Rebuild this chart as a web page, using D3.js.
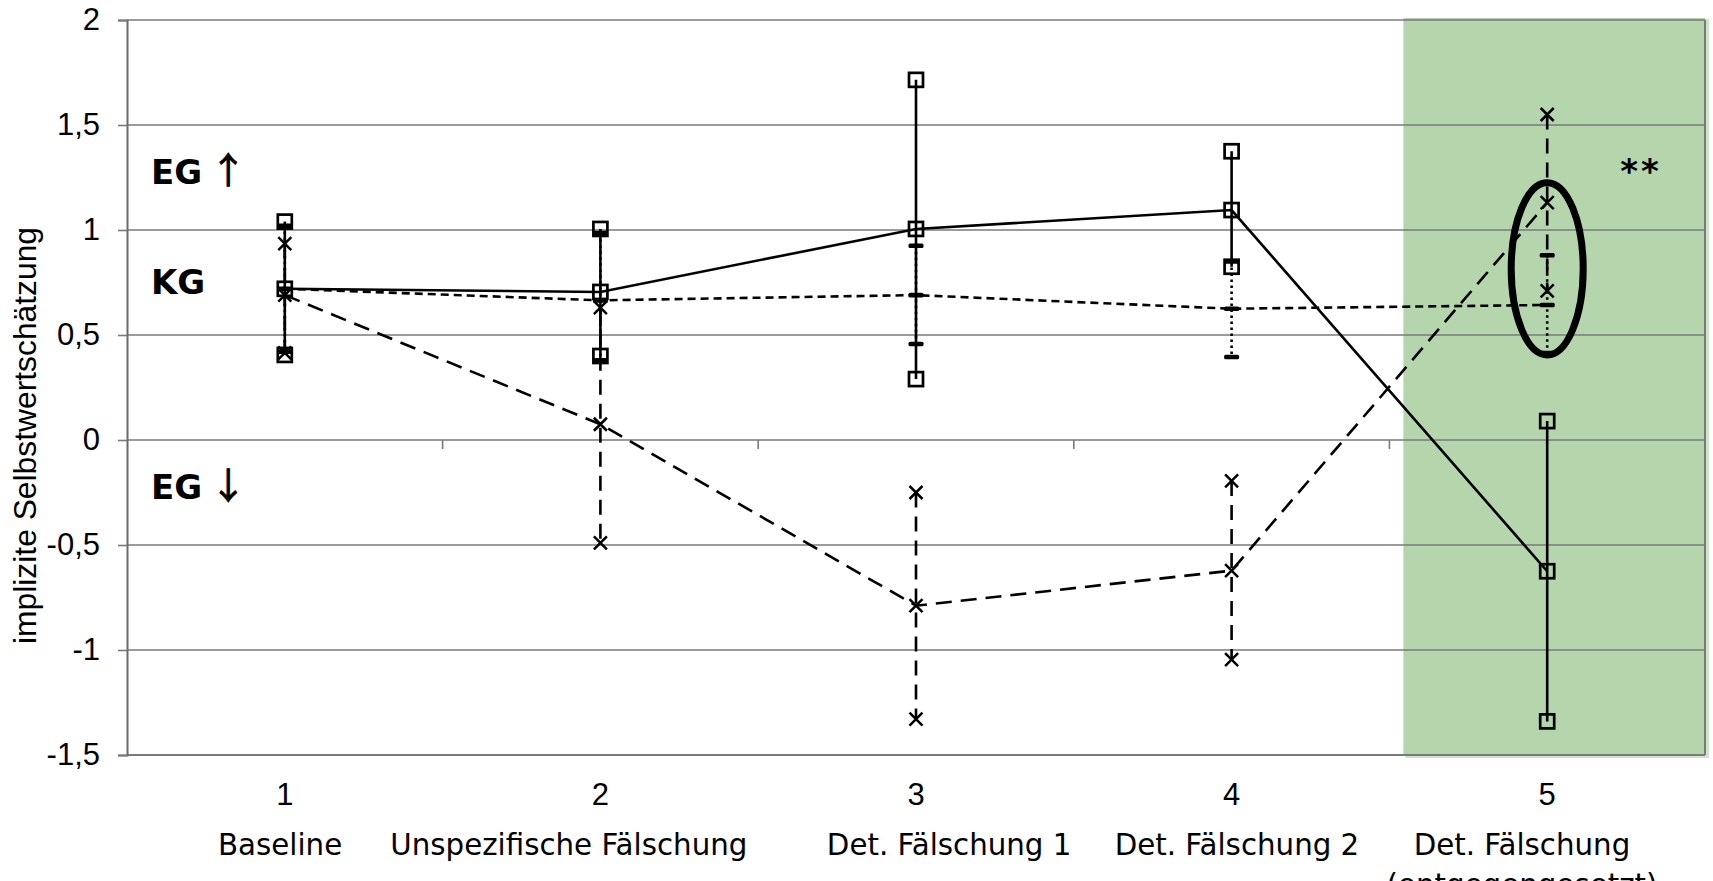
<!DOCTYPE html>
<html>
<head>
<meta charset="utf-8">
<script src="https://cdn.jsdelivr.net/npm/d3@7"></script>
<style>
  html, body { margin: 0; padding: 0; background: #fff; overflow: hidden; }
  svg { display: block; }
</style>
</head>
<body>
<svg id="chart" width="1713" height="881"></svg>
<script>
// ---------- data ----------
const categories = [1, 2, 3, 4, 5];
const categoryNames = [
  ["Baseline"],
  ["Unspezifische Fälschung"],
  ["Det. Fälschung 1"],
  ["Det. Fälschung 2"],
  ["Det. Fälschung", "(entgegengesetzt)"]
];
// label centres are offset from the category centres in the original (fraction of a category width)
const categoryNameOffsets = [-0.015, -0.10, 0.105, 0.017, -0.08];
const yTicks = [-1.5, -1, -0.5, 0, 0.5, 1, 1.5, 2];
const yTitle = "implizite Selbstwertschätzung";

// EG ↑ (solid line, square markers)
const egUpMean = [0.72, 0.705, 1.005, 1.095, -0.625];
const egUpHigh = [1.04, 1.005, 1.715, 1.375, 0.09];
const egUpLow  = [0.405, 0.40, 0.29, 0.825, -1.34];

// KG (short dashed line, dash markers, dotted error bars)
const kgMean = [0.72, 0.665, 0.69, 0.625, 0.643];
const kgHigh = [1.02, 0.985, 0.925, 0.85, 0.88];
const kgLow  = [0.42, 0.38, 0.457, 0.395, 0.414];

// EG ↓ (long dashed line, x markers)
const egDownMean = [0.69, 0.075, -0.789, -0.622, 1.13];
const egDownHigh = [0.935, 0.63, -0.25, -0.195, 1.55];
const egDownLow  = [0.415, -0.49, -1.329, -1.046, 0.71];

const groupLabels = [
  { text: "EG", arrow: "↑", value: 1.22 },
  { text: "KG", arrow: "",  value: 0.695 },
  { text: "EG", arrow: "↓", value: -0.28 }
];
const highlightCategory = 5;
const significance = "**";
const ellipseCenter = 0.815;
const ellipseHalf = 0.41;

// ---------- layout ----------
const svg = d3.select("#chart");
const plotLeft = 127, plotRight = 1705, plotTop = 20, plotBottom = 755;

const x = d3.scaleBand().domain(categories).range([plotLeft, plotRight]).paddingInner(0).paddingOuter(0);
const cx = c => x(c) + x.bandwidth() / 2;
const y = d3.scaleLinear().domain([-1.5, 2]).range([plotBottom, plotTop]);

const GRID = "#7a7a7a";

// highlight box (under gridlines)
const hx0 = x(highlightCategory) + 14;
svg.append("rect")
  .attr("x", hx0 + 2).attr("y", y(2) - 1)
  .attr("width", plotRight - hx0 + 2).attr("height", y(-1.5) - y(2) + 4)
  .attr("fill", "#cfe5c9");
svg.append("rect")
  .attr("x", hx0).attr("y", y(2) - 2)
  .attr("width", plotRight - hx0).attr("height", y(-1.5) - y(2) + 2)
  .attr("fill", "#b5d5ad");

// gridlines
svg.append("g").selectAll("line").data(yTicks).join("line")
  .attr("x1", plotLeft).attr("x2", plotRight)
  .attr("y1", d => y(d)).attr("y2", d => y(d))
  .attr("stroke", GRID)
  .attr("stroke-width", d => d === -1.5 ? 2.2 : 1.6);

// right border
svg.append("line")
  .attr("x1", plotRight).attr("x2", plotRight).attr("y1", y(2)).attr("y2", y(-1.5))
  .attr("stroke", GRID).attr("stroke-width", 2);

// y axis
const yAxis = d3.axisLeft(y).tickValues(yTicks).tickSize(9)
  .tickFormat(d => String(d).replace(".", ","));
const yg = svg.append("g").attr("transform", `translate(${plotLeft},0)`).call(yAxis);
yg.select(".domain").attr("stroke", "#6a6a6a").attr("stroke-width", 2);
yg.selectAll(".tick line").attr("stroke", GRID).attr("stroke-width", 1.6);
yg.selectAll(".tick text")
  .attr("x", -27)
  .attr("font-family", "'Liberation Sans', Arial, sans-serif")
  .attr("font-size", 31).attr("fill", "#000");

// x axis at y = 0 with ticks at category boundaries
svg.append("g").selectAll("line").data(categories).join("line")
  .attr("x1", d => x(d) + x.bandwidth()).attr("x2", d => x(d) + x.bandwidth())
  .attr("y1", y(0)).attr("y2", y(0) + 9)
  .attr("stroke", GRID).attr("stroke-width", 1.6);

// category numbers + names
svg.append("g").selectAll("text").data(categories).join("text")
  .attr("x", d => cx(d)).attr("y", 805)
  .attr("text-anchor", "middle")
  .attr("font-family", "'Liberation Sans', Arial, sans-serif")
  .attr("font-size", 31).text(d => d);

const nameX = (d, i) => cx(d) + categoryNameOffsets[i] * x.bandwidth();
const nameG = svg.append("g").selectAll("text").data(categories).join("text")
  .attr("x", nameX).attr("y", 855)
  .attr("text-anchor", "middle")
  .attr("font-family", "'DejaVu Sans', Verdana, sans-serif")
  .attr("font-size", 29.3);
nameG.each(function(d, i) {
  const t = d3.select(this);
  categoryNames[i].forEach((ln, j) => {
    t.append("tspan").attr("x", nameX(d, i)).attr("dy", j === 0 ? 0 : 40).text(ln);
  });
});

// y title
svg.append("text")
  .attr("transform", `translate(36, ${(y(2) + y(-1.5)) / 2 + 48}) rotate(-90)`)
  .attr("text-anchor", "middle")
  .attr("font-family", "'Liberation Sans', Arial, sans-serif")
  .attr("font-size", 31.8).text(yTitle);

// group labels
const gl = svg.append("g").selectAll("text").data(groupLabels).join("text")
  .attr("x", 151).attr("y", d => y(d.value))
  .attr("font-family", "'DejaVu Sans', Verdana, sans-serif")
  .attr("font-size", 34);
gl.append("tspan").attr("font-weight", "bold").text(d => d.text);
gl.append("tspan").attr("font-weight", "normal")
  .attr("font-family", "'Noto Sans CJK JP', 'Noto Sans CJK SC', sans-serif")
  .attr("font-size", 36)
  .attr("dx", 8).attr("stroke", "#000").attr("stroke-width", 1)
  .text(d => d.arrow);

// ---------- series ----------
const toPts = (arr) => arr.map((v, i) => [cx(categories[i]), y(v)]);
const lineGen = d3.line();
const SW = 2.6;

function errorBars(high, low, dash) {
  svg.append("g").selectAll("line").data(categories).join("line")
    .attr("x1", d => cx(d)).attr("x2", d => cx(d))
    .attr("y1", (d, i) => y(high[i])).attr("y2", (d, i) => y(low[i]))
    .attr("stroke", "#000").attr("stroke-width", SW)
    .attr("stroke-dasharray", dash);
}

// EG up
errorBars(egUpHigh, egUpLow, null);
svg.append("path").attr("d", lineGen(toPts(egUpMean)))
  .attr("fill", "none").attr("stroke", "#000").attr("stroke-width", SW);

// KG
errorBars(kgHigh, kgLow, "2.5,3.5");
svg.append("path").attr("d", lineGen(toPts(kgMean)))
  .attr("fill", "none").attr("stroke", "#000").attr("stroke-width", SW)
  .attr("stroke-dasharray", "8,5");

// EG down
errorBars(egDownHigh, egDownLow, "15,9");
svg.append("path").attr("d", lineGen(toPts(egDownMean)))
  .attr("fill", "none").attr("stroke", "#000").attr("stroke-width", SW)
  .attr("stroke-dasharray", "16,9");

// markers
function squares(arr) {
  svg.append("g").selectAll("rect").data(arr).join("rect")
    .attr("x", (d, i) => cx(categories[i]) - 7)
    .attr("y", d => y(d) - 7)
    .attr("width", 14).attr("height", 14)
    .attr("fill", "none").attr("stroke", "#000").attr("stroke-width", 2.7);
}
function crosses(arr) {
  const s = 6.5;
  svg.append("g").selectAll("path").data(arr).join("path")
    .attr("d", (d, i) => {
      const px = cx(categories[i]), py = y(d);
      return `M${px - s},${py - s}L${px + s},${py + s}M${px - s},${py + s}L${px + s},${py - s}`;
    })
    .attr("fill", "none").attr("stroke", "#000").attr("stroke-width", 2.5);
}
function dashes(arr) {
  svg.append("g").selectAll("rect").data(arr).join("rect")
    .attr("x", (d, i) => cx(categories[i]) - 7.5)
    .attr("y", d => y(d) - 2.3)
    .attr("width", 15).attr("height", 4.6).attr("rx", 1.5)
    .attr("fill", "#000");
}
dashes(kgHigh); dashes(kgMean); dashes(kgLow);
squares(egUpHigh); squares(egUpMean); squares(egUpLow);
crosses(egDownHigh); crosses(egDownMean); crosses(egDownLow);

// highlight ellipse
svg.append("ellipse")
  .attr("cx", cx(highlightCategory)).attr("cy", y(ellipseCenter))
  .attr("rx", 36).attr("ry", y(ellipseCenter - ellipseHalf) - y(ellipseCenter))
  .attr("fill", "none").attr("stroke", "#000").attr("stroke-width", 7);

// significance
svg.append("text")
  .attr("x", 1641).attr("y", 183)
  .attr("text-anchor", "middle")
  .attr("font-family", "'DejaVu Sans', Verdana, sans-serif")
  .attr("font-weight", "bold").attr("font-size", 34)
  .attr("letter-spacing", 3)
  .text(significance);
</script>
</body>
</html>
